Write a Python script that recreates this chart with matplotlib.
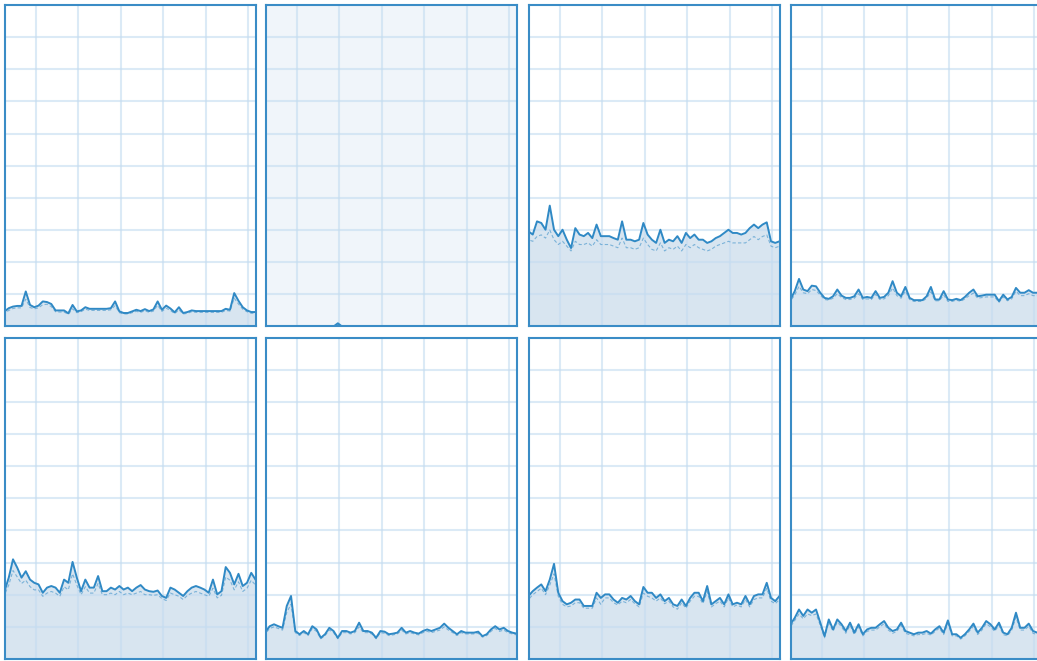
import matplotlib
matplotlib.use("Agg")
import matplotlib.pyplot as plt
import numpy as np

# ---- data (CPU usage %, 60 one-second samples per logical processor) ----
seconds = list(range(60))

cpu0_total = [4.7,5.7,6.2,6.4,6.4,10.9,6.7,6.0,6.5,7.8,7.6,7.0,5.0,5.0,5.0,4.1,6.7,4.7,5.0,6.0,
              5.5,5.5,5.5,5.5,5.5,5.7,7.8,4.7,4.2,4.2,4.7,5.2,4.8,5.4,4.8,5.3,7.8,5.2,6.5,5.6,
              4.4,6.0,4.2,4.5,5.0,4.8,4.8,4.8,4.8,4.8,4.8,4.8,5.5,5.2,10.4,8.0,6.0,5.0,4.5,4.5]
cpu0_kernel = [4.2,5.0,5.6,5.8,5.8,8.5,5.9,5.5,5.8,6.8,6.9,6.2,4.6,4.5,4.5,3.8,5.5,4.3,4.6,5.4,
               5.0,5.0,5.0,5.0,5.0,5.2,6.5,4.3,3.9,3.9,4.3,4.7,4.4,4.9,4.4,4.8,6.6,4.7,5.7,5.0,
               4.0,5.2,3.9,4.1,4.6,4.4,4.4,4.4,4.4,4.4,4.4,4.4,5.0,4.8,8.8,7.0,5.4,4.6,4.1,4.1]

cpu1_total = [0,0,0,0,0,0,0,0,0,0,0,0,0,0,0,0,0,1.0,0,0,
              0,0,0,0,0,0,0,0,0,0,0,0,0,0,0,0,0,0,0,0,
              0,0,0,0,0,0,0,0,0,0,0,0,0,0,0,0,0,0,0,0]
cpu1_kernel = [0,0,0,0,0,0,0,0,0,0,0,0,0,0,0,0,0,0.7,0,0,
               0,0,0,0,0,0,0,0,0,0,0,0,0,0,0,0,0,0,0,0,
               0,0,0,0,0,0,0,0,0,0,0,0,0,0,0,0,0,0,0,0]

cpu2_total = [29.6,28.6,32.7,32.2,30.1,37.6,30.1,28.1,30.1,27.0,24.4,30.6,28.6,28.1,29.1,27.5,31.7,28.1,28.1,28.1,
              27.5,27.0,32.7,27.0,27.0,26.5,27.0,32.2,28.6,27.0,26.0,30.1,26.0,27.0,26.5,28.1,26.0,29.1,27.5,28.6,
              27.0,27.0,26.0,26.5,27.5,28.1,29.1,30.1,29.1,29.1,28.6,29.1,30.6,31.7,30.6,31.7,32.4,26.5,26.0,26.5]
cpu2_kernel = [27.0,26.5,28.0,28.5,27.5,30.0,27.0,25.5,26.5,25.0,23.5,26.5,25.5,25.5,26.0,25.0,27.0,25.5,25.5,25.5,
               25.0,24.5,27.5,24.5,24.5,24.0,24.5,27.5,25.5,24.0,23.5,26.0,23.5,24.5,24.0,25.0,23.5,25.5,24.5,25.5,
               24.5,24.0,23.5,24.0,25.0,25.5,26.0,26.5,26.0,26.0,26.0,26.0,27.0,28.0,27.0,28.0,28.5,25.0,24.5,25.0]

cpu3_total = [8.4,11.0,14.8,11.5,11.0,12.7,12.5,10.5,8.9,8.6,9.4,11.5,9.6,8.9,8.9,9.4,11.5,8.9,9.2,8.9,
              11.0,8.9,9.2,10.5,14.1,10.5,9.4,12.3,8.9,8.2,8.2,8.2,9.4,12.3,8.4,8.4,11.0,8.4,8.2,8.6,
              8.2,9.2,10.5,11.5,9.4,9.6,9.9,9.9,9.9,7.9,9.9,8.4,9.2,12.0,10.5,10.5,11.3,10.5,10.5,9.9]
cpu3_kernel = [8.0,9.8,12.5,10.5,10.2,11.5,11.2,9.8,8.4,8.2,8.8,10.2,9.0,8.4,8.4,8.8,10.2,8.4,8.6,8.4,
               10.0,8.4,8.6,9.6,12.0,9.6,8.8,11.0,8.4,7.8,7.8,7.8,8.8,10.8,8.0,8.0,9.8,7.8,7.8,8.2,
               7.8,8.6,9.6,10.4,8.8,9.0,9.2,9.2,9.2,7.5,9.2,8.0,8.6,11.0,9.6,9.6,10.2,9.6,9.6,9.2]

cpu4_total = [21.1,25.3,31.0,28.4,25.3,27.3,24.7,23.7,23.2,20.6,22.2,22.7,22.2,20.6,24.7,23.7,30.2,25.3,21.1,24.7,
              22.2,22.2,25.8,21.1,21.1,22.2,21.6,22.7,21.6,22.2,21.1,22.2,23.0,21.6,21.1,20.9,21.3,19.6,19.0,22.2,
              21.6,20.6,19.6,21.1,22.2,22.7,22.2,21.6,20.6,24.7,20.1,21.1,28.6,26.8,23.2,26.5,22.7,23.7,26.8,24.7]
cpu4_kernel = [20.0,23.0,27.5,25.5,23.5,24.5,22.5,21.5,21.5,19.5,20.5,21.0,20.5,19.5,22.5,21.5,26.5,23.0,20.0,22.5,
               20.5,20.5,23.5,20.0,20.0,20.5,20.0,21.0,20.0,20.5,20.0,20.5,21.0,20.0,20.0,19.8,20.0,18.8,18.2,20.5,
               20.0,19.5,18.5,19.8,20.5,21.0,20.5,20.0,19.5,22.0,19.0,19.8,25.5,24.5,21.5,24.0,21.0,22.0,24.5,23.0]

cpu5_total = [8.5,10.2,10.8,10.2,9.7,16.5,19.6,8.7,7.7,8.7,7.7,10.2,9.2,6.6,7.7,9.7,8.7,6.6,8.7,8.7,
              8.2,8.7,11.3,8.7,8.7,8.2,6.6,8.7,8.5,7.7,7.9,8.2,9.7,8.2,8.7,8.2,7.9,8.7,9.2,8.7,
              9.2,9.7,11.0,9.7,8.7,7.7,8.7,8.2,8.2,8.2,8.5,7.1,7.7,9.2,10.2,9.2,9.7,8.7,8.2,7.9]
cpu5_kernel = [8.0,9.5,10.0,9.5,9.0,14.5,17.0,8.2,7.3,8.2,7.3,9.5,8.6,6.3,7.3,9.0,8.2,6.3,8.2,8.2,
               7.8,8.2,10.0,8.2,8.2,7.8,6.3,8.2,8.0,7.3,7.5,7.8,9.0,7.8,8.2,7.8,7.5,8.2,8.6,8.2,
               8.6,9.0,10.0,9.0,8.2,7.3,8.2,7.8,7.8,7.8,8.0,6.8,7.3,8.6,9.5,8.6,9.0,8.2,7.8,7.5]

cpu6_total = [19.6,21.1,22.2,23.2,21.1,24.7,29.6,20.6,18.0,17.0,17.5,18.5,18.5,16.5,16.5,16.5,20.6,19.0,20.1,20.1,
              18.5,17.5,19.0,18.5,19.6,18.0,17.0,22.4,20.6,20.6,19.0,20.1,18.0,19.0,17.0,16.5,18.5,16.5,19.0,20.6,
              20.6,18.0,22.7,17.0,18.0,19.0,17.0,20.1,17.0,17.5,17.0,19.6,17.0,19.6,20.1,20.1,23.7,19.0,18.0,19.6]
cpu6_kernel = [18.5,20.0,21.0,22.0,20.0,23.0,26.5,19.5,17.0,16.2,16.5,17.5,17.5,15.8,15.8,15.8,19.0,17.0,19.0,19.0,
               17.5,16.8,18.0,17.5,18.5,17.2,16.2,20.5,19.5,19.0,18.0,19.0,17.2,18.0,16.2,15.5,17.5,15.8,18.0,19.5,
               19.5,17.2,21.0,16.2,17.2,18.0,16.2,19.0,16.2,16.8,16.2,18.5,16.2,18.5,19.0,19.0,22.0,18.0,17.2,18.5]

cpu7_total = [10.8,12.8,15.4,13.4,15.4,14.4,15.4,11.3,7.1,12.3,9.2,12.3,10.8,8.7,11.3,8.2,10.8,7.7,9.2,9.7,
              9.7,10.8,11.8,9.7,8.7,9.2,11.3,8.7,8.2,7.7,8.2,8.2,8.7,7.9,9.2,10.2,8.2,12.0,7.7,7.7,
              6.6,7.7,9.2,11.0,8.2,9.7,11.8,10.8,9.2,11.3,8.2,7.7,9.7,14.4,9.7,9.7,11.0,8.7,8.2,8.2]
cpu7_kernel = [10.0,12.0,14.0,12.5,14.0,13.5,14.0,10.5,6.6,11.5,8.6,11.5,10.0,8.0,10.5,7.6,10.0,7.2,8.6,9.0,
               9.0,10.0,11.0,9.0,8.0,8.6,10.5,8.0,7.6,7.2,7.6,7.6,8.0,7.4,8.6,9.6,7.6,11.0,7.2,7.2,
               6.2,7.2,8.6,10.2,7.6,9.0,11.0,10.0,8.6,10.5,7.6,7.2,9.0,13.0,9.0,9.0,10.2,8.0,7.6,7.6]

totals = [cpu0_total, cpu1_total, cpu2_total, cpu3_total,
          cpu4_total, cpu5_total, cpu6_total, cpu7_total]
kernels = [cpu0_kernel, cpu1_kernel, cpu2_kernel, cpu3_kernel,
           cpu4_kernel, cpu5_kernel, cpu6_kernel, cpu7_kernel]
selected = 1

# ---- style ----
LINE = "#2f89c5"
BORDER = "#3a8cc6"
FILL = "#d8e5f0"
GRID = "#c4dcf0"
SEL_BG = "#f0f5fa"

W, H = 1037, 661
fig = plt.figure(figsize=(W / 100, H / 100), dpi=100)
fig.patch.set_facecolor("white")

col_left = [4.5, 265.5, 528.5, 790.5]
row_top = [5.0, 337.5]
pw, ph = 251.0, 321.5

xgrid = np.arange(7.3, 59, 10)
ygrid = np.arange(10, 100, 10)

for i in range(8):
    r, c = divmod(i, 4)
    l, t = col_left[c], row_top[r]
    ax = fig.add_axes([l / W, 1 - (t + ph) / H, pw / W, ph / H])
    ax.set_xlim(0, 59)
    ax.set_ylim(0, 100)
    ax.set_facecolor(SEL_BG if i == selected else "white")
    x = np.array(seconds)
    tot = np.array(totals[i])
    ker = np.array(kernels[i])
    ax.fill_between(x, 0, tot, color=FILL, lw=0, zorder=1)
    ax.set_xticks(xgrid)
    ax.set_yticks(ygrid)
    ax.grid(True, color=GRID, lw=1.5, alpha=0.6)
    ax.set_axisbelow(False)
    ax.tick_params(length=0, labelbottom=False, labelleft=False)
    kx = np.concatenate([[x[0]], x])
    ky = np.concatenate([[0], ker])
    ax.plot(kx, ky, color=LINE, lw=0.8, alpha=0.55, dashes=(3, 2), zorder=3)
    ax.plot(x, tot, color=LINE, lw=1.4, zorder=4)
    for s in ax.spines.values():
        s.set_color(BORDER)
        s.set_linewidth(1.5)
        s.set_zorder(5)

fig.savefig("out.png", dpi=100)
